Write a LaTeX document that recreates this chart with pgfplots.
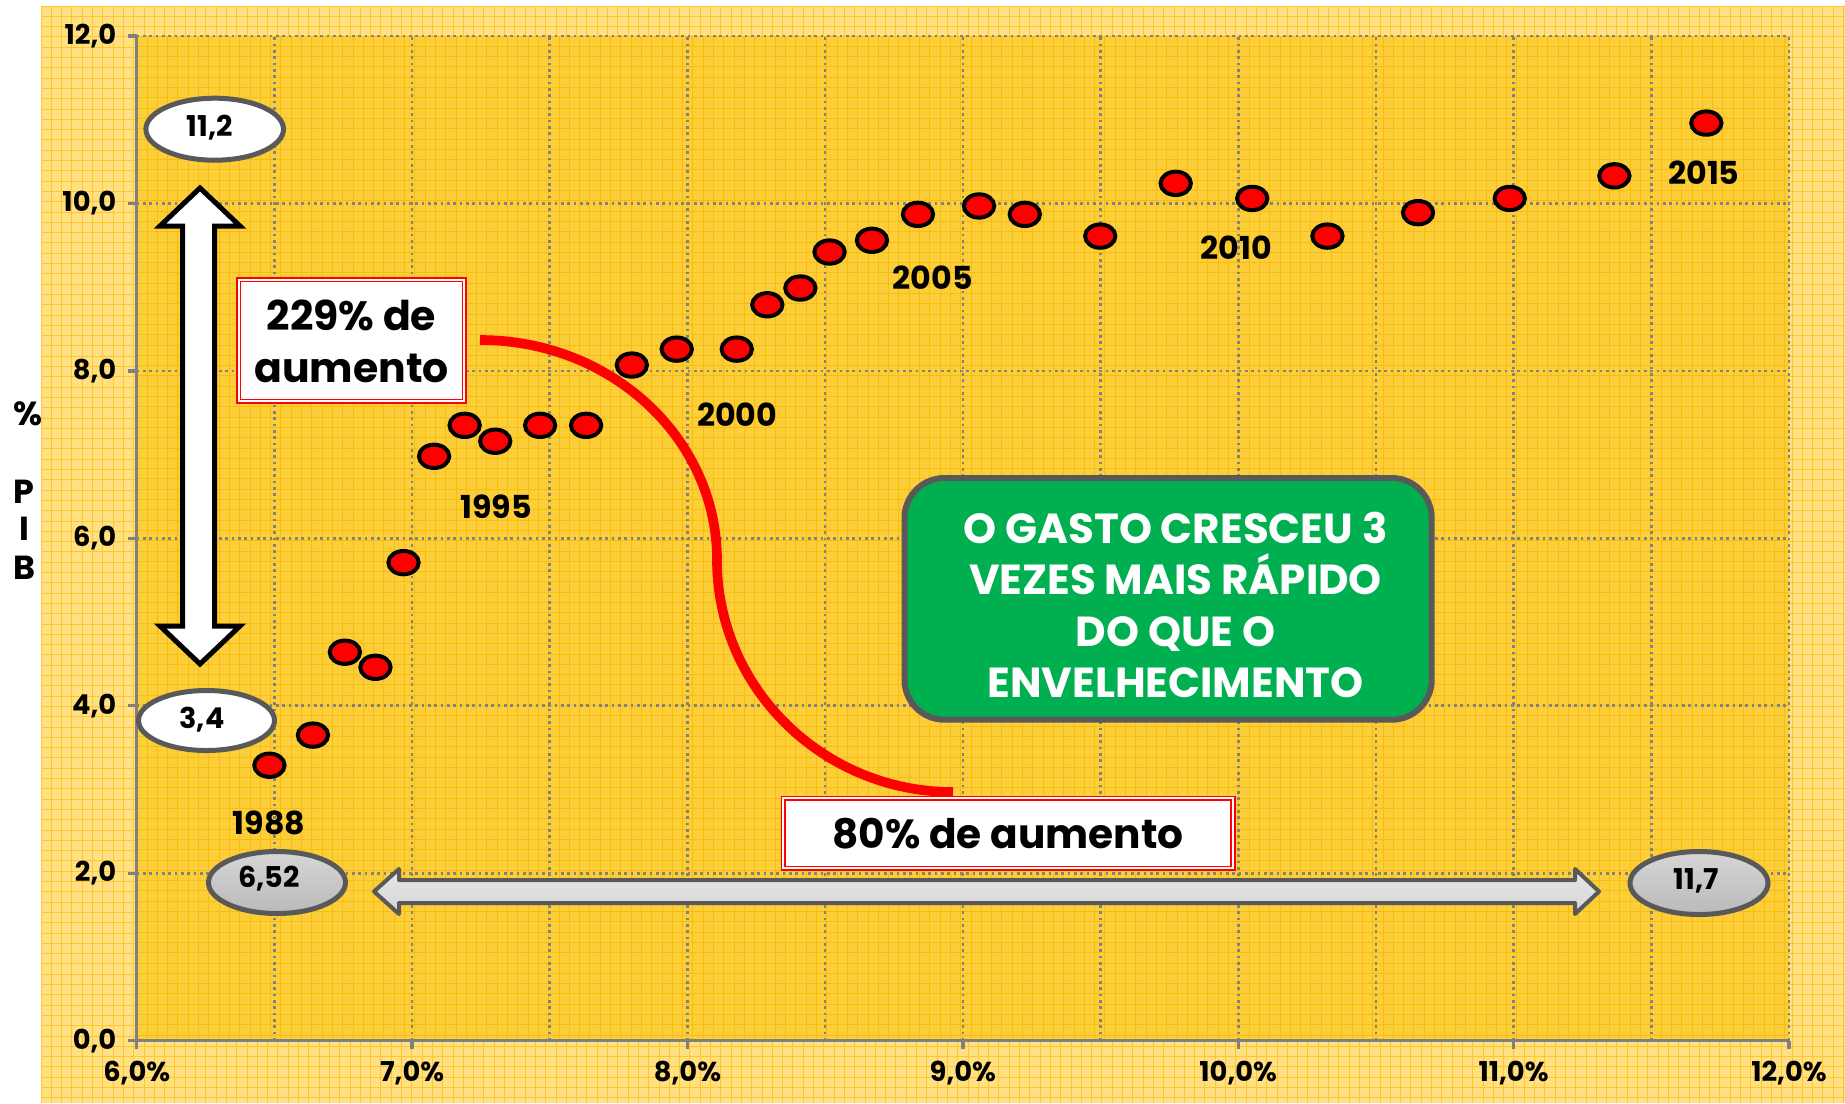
\documentclass[border=0pt]{standalone}
\usepackage{fontspec}
\setmainfont{Poppins}
\usepackage{pgfplots}
\pgfplotsset{compat=1.18}

\definecolor{outerbg}{RGB}{255,224,130}
\definecolor{outerln}{RGB}{255,199,45}
\definecolor{innerbg}{RGB}{252,206,58}
\definecolor{innerln}{RGB}{247,190,15}
\definecolor{axisgray}{RGB}{128,128,128}
\definecolor{dotgray}{RGB}{130,130,130}
\definecolor{rimgray}{RGB}{89,89,89}
\definecolor{lgtop}{RGB}{214,214,214}
\definecolor{lgbot}{RGB}{186,186,186}
\definecolor{boxgreen}{RGB}{0,176,80}

\begin{document}
\begin{tikzpicture}
% pixel frame: 1 px = 0.3pt, y downwards
\begin{scope}[x=0.3pt,y=-0.3pt]
  \path[use as bounding box,fill=white] (0,0) rectangle (1845,1103);
  \fill[outerbg] (41,6) rectangle (1845,1103);
  \foreach \i in {0,...,175} {\draw[outerln,line width=0.3pt] (41+\i*10.3,6) -- (41+\i*10.3,1103);}
  \foreach \i in {0,...,106} {\draw[outerln,line width=0.3pt] (41,6+\i*10.3) -- (1845,6+\i*10.3);}
  \fill[innerbg] (136.7,36) rectangle (1789,1040.7);
  \foreach \i in {0,...,160} {\draw[innerln,line width=0.3pt] (136.7+\i*10.3,36) -- (136.7+\i*10.3,1040.7);}
  \foreach \i in {0,...,97} {\draw[innerln,line width=0.3pt] (136.7,36+\i*10.3) -- (1789,36+\i*10.3);}
  % y label
  \node[font=\bfseries\fontsize{10}{12}\selectfont] at (28,414) {\%};
  \node[font=\bfseries\fontsize{10}{12}\selectfont] at (24,492) {P};
  \node[font=\bfseries\fontsize{10}{12}\selectfont] at (24,529) {I};
  \node[font=\bfseries\fontsize{10}{12}\selectfont] at (24,568) {B};
\end{scope}

\begin{axis}[
  at={(41.01pt,-312.21pt)}, anchor=south west,
  scale only axis, width=495.69pt, height=301.41pt,
  xmin=6, xmax=12, ymin=0, ymax=12,
  axis lines*=left,
  axis line style={draw=axisgray, line width=1pt, -},
  xtick={6,7,...,12},
  minor xtick={6.5,7.5,8.5,9.5,10.5,11.5},
  xticklabels={{6,0\%},{7,0\%},{8,0\%},{9,0\%},{10,0\%},{11,0\%},{12,0\%}},
  ytick={0,2,...,12},
  yticklabels={{0,0},{2,0},{4,0},{6,0},{8,0},{10,0},{12,0}},
  xmajorgrids, xminorgrids, ymajorgrids,
  major grid style={dotgray, line width=0.8pt, dash pattern=on 0.8pt off 1.1pt},
  minor grid style={dotgray, line width=0.8pt, dash pattern=on 0.8pt off 1.1pt},
  xtick pos=left, ytick pos=left,
  tick align=outside, major tick length=2.6pt, minor tick length=0pt,
  major tick style={axisgray, line width=1pt},
  ticklabel style={font=\bfseries\fontsize{8.2}{9.5}\selectfont},
  clip=false,
]
\addplot[only marks, mark=*, mark size=3.5pt,
  mark options={xscale=1.3, fill=red, draw=black, line width=1.2pt}] table {
x y
6.482 3.29
6.640 3.65
6.756 4.64
6.867 4.46
6.969 5.71
7.080 6.98
7.191 7.35
7.302 7.16
7.465 7.35
7.632 7.35
7.798 8.07
7.961 8.26
8.179 8.26
8.290 8.79
8.410 8.99
8.516 9.42
8.670 9.56
8.837 9.87
9.059 9.97
9.225 9.87
9.499 9.61
9.773 10.24
10.051 10.06
10.324 9.61
10.653 9.89
10.986 10.06
11.366 10.33
11.700 10.96
};
\node[font=\bfseries\fontsize{9.5}{11}\selectfont] at (axis cs:6.480,2.600) {1988};
\node[font=\bfseries\fontsize{9.5}{11}\selectfont] at (axis cs:7.305,6.373) {1995};
\node[font=\bfseries\fontsize{9.5}{11}\selectfont] at (axis cs:8.180,7.474) {2000};
\node[font=\bfseries\fontsize{9.5}{11}\selectfont] at (axis cs:8.891,9.110) {2005};
\node[font=\bfseries\fontsize{9.5}{11}\selectfont] at (axis cs:9.992,9.468) {2010};
\node[font=\bfseries\fontsize{9.5}{11}\selectfont] at (axis cs:11.691,10.364) {2015};
\end{axis}

\begin{scope}[x=0.3pt,y=-0.3pt]
  % value ellipses
  \draw[rimgray, line width=1.5pt, fill=white] (214.7,129.2) ellipse [x radius=68.8, y radius=31];
  \node[font=\bfseries\fontsize{8.6}{10}\selectfont] at (210,128) {11,2};
  \draw[rimgray, line width=1.5pt, fill=white] (206.5,720.5) ellipse [x radius=68, y radius=30];
  \node[font=\bfseries\fontsize{8.6}{10}\selectfont] at (202,720) {3,4};
  \draw[rimgray, line width=1.5pt, top color=lgtop, bottom color=lgbot] (277,882.5) ellipse [x radius=68.5, y radius=31];
  \node[font=\bfseries\fontsize{8.6}{10}\selectfont] at (269,879) {6,52};
  \draw[rimgray, line width=1.5pt, top color=lgtop, bottom color=lgbot] (1699,883) ellipse [x radius=69, y radius=31.5];
  \node[font=\bfseries\fontsize{8.6}{10}\selectfont] at (1696,881) {11,7};
  % vertical double arrow
  \draw[black, line width=1.5pt, fill=white, miter limit=4]
    (200,188) -- (240,226) -- (214.5,226) -- (214.5,626) -- (240,626) -- (200,664)
    -- (160,626) -- (182.5,626) -- (182.5,226) -- (160,226) -- cycle;
  % horizontal double arrow
  \draw[rimgray, line width=1.2pt, top color=lgtop!60!white, bottom color=lgtop, line join=round]
    (374,891.5) -- (399,869) -- (399,880) -- (1575,880) -- (1575,869) -- (1599,891.5)
    -- (1575,914) -- (1575,903) -- (399,903) -- (399,914) -- cycle;
  % red connector
  \draw[red, line width=2.9pt]
    (480,340) .. controls (611,340) and (717,438) .. (717,560)
    .. controls (717,688) and (823,792) .. (953,792);
  % 229% box
  \fill[white] (236,277) rectangle (467,404);
  \draw[red, line width=0.5pt] (236.8,277.8) rectangle (466.2,403.2);
  \draw[red, line width=0.4pt] (240.5,281.5) rectangle (462.5,399.5);
  \node[align=center, font=\bfseries\fontsize{12.3}{15.6}\selectfont] at (351.5,341) {229\% de\\aumento};
  % 80% box
  \fill[white] (780.6,795.7) rectangle (1235.7,870.7);
  \draw[red, line width=0.5pt] (781.4,796.5) rectangle (1234.9,869.9);
  \draw[red, line width=0.4pt] (785,800) rectangle (1231,866.4);
  \node[font=\bfseries\fontsize{12.2}{15.6}\selectfont] at (1008,834) {80\% de aumento};
  % green message box
  \draw[rimgray, line width=1.8pt, fill=boxgreen, rounded corners=12pt] (904.5,478) rectangle (1431.7,719.7);
  \node[align=center, text=white, font=\bfseries\fontsize{12.6}{15.4}\selectfont] at (1175.5,605)
    {O GASTO CRESCEU 3\\VEZES MAIS RÁPIDO\\DO QUE O\\ENVELHECIMENTO};
\end{scope}
\end{tikzpicture}
\end{document}
